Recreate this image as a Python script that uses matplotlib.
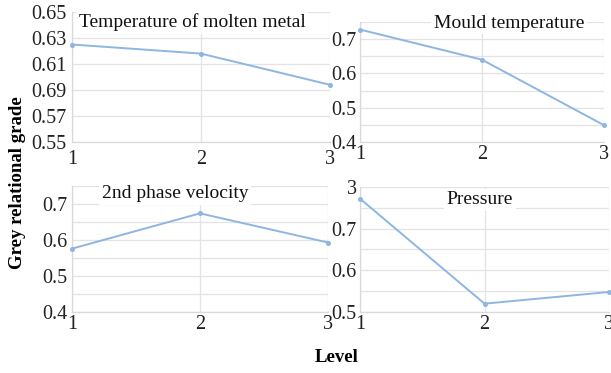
import matplotlib
matplotlib.use("Agg")
import matplotlib.pyplot as plt

plt.rcParams["font.family"] = ["Liberation Serif", "DejaVu Serif"]

levels = [1, 2, 3]

titles = ["Temperature of molten metal", "Mould temperature",
          "2nd phase velocity", "Pressure"]

molten_metal = [0.625, 0.618, 0.594]
mould_temp = [0.728, 0.640, 0.449]
phase_velocity = [0.576, 0.674, 0.593]
pressure = [0.772, 0.520, 0.548]

series = [molten_metal, mould_temp, phase_velocity, pressure]

ytick_values = [
    [0.55, 0.57, 0.59, 0.61, 0.63, 0.65],
    [0.4, 0.5, 0.6, 0.7],
    [0.4, 0.5, 0.6, 0.7],
    [0.5, 0.6, 0.7, 0.8],
]
ytick_labels = [
    ["0.55", "0.57", "0.69", "0.61", "0.63", "0.65"],
    ["0.4", "0.5", "0.6", "0.7"],
    ["0.4", "0.5", "0.6", "0.7"],
    ["0.5", "0.6", "0.7", "3"],
]
ylims = [(0.55, 0.65), (0.4, 0.75), (0.4, 0.75), (0.5, 0.8)]
grid_step = [0.02, 0.05, 0.05, 0.05]

W, H = 611, 373
# panel boxes in pixels: left, right, top, bottom
boxes = [(72, 330, 12, 142), (360, 604, 22, 142),
         (72, 328, 186, 312), (360, 609, 187, 312)]
title_pos = [(192, 22), (509, 23), (175, 194), (480, 200)]
ylab_pad = [4, 2.5, 3, 2.5]
xlab_pad = [6, 2, 2, 2]

line_color = "#8db6e3"
grid_color = "#e3e3e3"

fig = plt.figure(figsize=(W / 100, H / 100), dpi=100)

for i in range(4):
    l, r, t, b = boxes[i]
    ax = fig.add_axes([l / W, 1 - b / H, (r - l) / W, (b - t) / H])
    ax.set_xlim(1, 3)
    ax.set_ylim(*ylims[i])
    lo, hi = ylims[i]
    n = int(round((hi - lo) / grid_step[i]))
    for k in range(n + 1):
        ax.axhline(lo + k * grid_step[i], color=grid_color, lw=0.9, zorder=0)
    for x in levels:
        ax.axvline(x, color=grid_color, lw=0.9, zorder=0)
    ax.plot(levels, series[i], color=line_color, lw=1.4, marker="o",
            markersize=2.6, zorder=3, clip_on=False)
    ax.set_xticks(levels)
    ax.set_xticklabels([str(v) for v in levels])
    ax.set_yticks(ytick_values[i])
    ax.set_yticklabels(ytick_labels[i])
    ax.tick_params(axis="both", length=0, labelsize=14.5, colors="#222222")
    ax.tick_params(axis="x", pad=xlab_pad[i])
    ax.tick_params(axis="y", pad=ylab_pad[i])
    for s in ["top", "right"]:
        ax.spines[s].set_visible(False)
    for s in ["left", "bottom"]:
        ax.spines[s].set_color("#d9d9d9")
        ax.spines[s].set_linewidth(0.9)
    ax.set_facecolor("white")
    tx, ty = title_pos[i]
    fig.text(tx / W, 1 - ty / H, titles[i], ha="center", va="center",
             fontsize=14, color="#111111", zorder=10,
             bbox=dict(facecolor="white", edgecolor="none", pad=2))

fig.text(18 / W, 1 - 183 / H, "Grey relational grade", rotation=90,
         ha="center", va="center", fontsize=13.5, fontweight="bold")
fig.text(337 / W, 1 - 358 / H, "Level", ha="center", va="center",
         fontsize=13.5, fontweight="bold")

fig.savefig("out.png", dpi=100)
